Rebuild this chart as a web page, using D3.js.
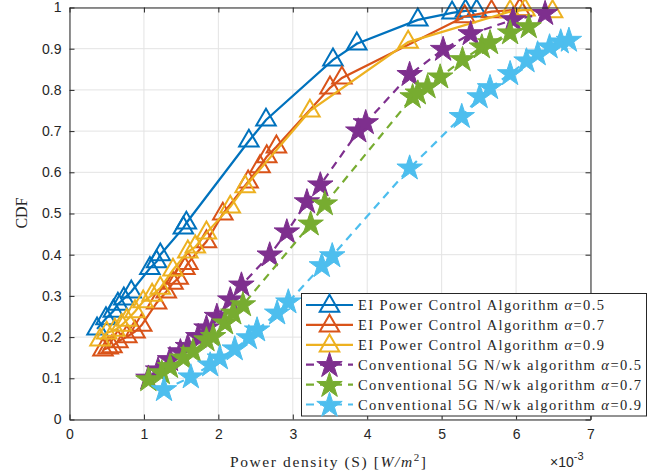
<!DOCTYPE html>
<html>
<head>
<meta charset="utf-8">
<script src="https://cdn.jsdelivr.net/npm/d3@7"></script>
<style>
  body { margin: 0; background: #fff; }
  text { fill: #262626; }
</style>
</head>
<body>
<svg width="663" height="476"></svg>
<script>
// values; x in units of 1e-3 W/m^2
const xTicks = [0, 1, 2, 3, 4, 5, 6, 7];
const yTicks = [0, 0.1, 0.2, 0.3, 0.4, 0.5, 0.6, 0.7, 0.8, 0.9, 1];
const yTickLabels = ["0", "0.1", "0.2", "0.3", "0.4", "0.5", "0.6", "0.7", "0.8", "0.9", "1"];

const ei05 = [
  [0.37, 0.22], [0.49, 0.245], [0.59, 0.263], [0.65, 0.28], [0.73, 0.293], [0.83, 0.31],
  [1.08, 0.367], [1.17, 0.383], [1.22, 0.40], [1.53, 0.465], [1.57, 0.477],
  [2.41, 0.676], [2.64, 0.727], [3.54, 0.873], [3.86, 0.912], [4.68, 0.97],
  [5.14, 0.987], [5.32, 0.992], [5.47, 0.992]
];
const ei07 = [
  [0.45, 0.169], [0.52, 0.174], [0.57, 0.177], [0.65, 0.189], [0.77, 0.201], [0.88, 0.213],
  [0.97, 0.229], [1.17, 0.283], [1.30, 0.31], [1.39, 0.331], [1.46, 0.343], [1.55, 0.367],
  [1.59, 0.379], [1.84, 0.432], [2.06, 0.499], [2.40, 0.577], [2.56, 0.614], [2.65, 0.638],
  [2.78, 0.662], [3.50, 0.805], [3.66, 0.829], [5.31, 0.978], [5.67, 0.99], [6.05, 0.995]
];
const ei09 = [
  [0.41, 0.193], [0.50, 0.21], [0.61, 0.217], [0.70, 0.229], [0.77, 0.241], [0.88, 0.262],
  [0.99, 0.286], [1.11, 0.302], [1.22, 0.319], [1.39, 0.363], [1.59, 0.407], [1.69, 0.419],
  [1.84, 0.453], [2.16, 0.516], [2.36, 0.565], [3.23, 0.749], [4.55, 0.916], [5.92, 0.99],
  [6.12, 0.994], [6.49, 0.99]
];
const conv05 = [
  [1.06, 0.10], [1.19, 0.12], [1.35, 0.145], [1.49, 0.164], [1.59, 0.177], [1.73, 0.201],
  [1.84, 0.222], [1.98, 0.25], [2.16, 0.29], [2.31, 0.326], [2.69, 0.399], [2.92, 0.455],
  [3.19, 0.528], [3.37, 0.569], [3.88, 0.70], [3.98, 0.72], [4.57, 0.837], [5.02, 0.898],
  [5.39, 0.936], [5.96, 0.97], [6.39, 0.985]
];
const conv07 = [
  [1.06, 0.096], [1.24, 0.113], [1.35, 0.128], [1.53, 0.149], [1.66, 0.165], [1.84, 0.193],
  [1.93, 0.201], [2.09, 0.234], [2.20, 0.258], [2.33, 0.278], [3.24, 0.474], [3.43, 0.523],
  [4.61, 0.783], [4.68, 0.792], [4.81, 0.807], [4.98, 0.831], [5.28, 0.873], [5.54, 0.904],
  [5.65, 0.914], [5.92, 0.938], [6.17, 0.953]
];
const conv09 = [
  [1.27, 0.072], [1.63, 0.103], [1.89, 0.132], [2.02, 0.149], [2.22, 0.171], [2.41, 0.198],
  [2.52, 0.217], [2.79, 0.258], [2.94, 0.285], [3.39, 0.373], [3.53, 0.397], [4.57, 0.61],
  [5.27, 0.735], [5.51, 0.783], [5.65, 0.805], [5.92, 0.839], [6.14, 0.87], [6.29, 0.887],
  [6.45, 0.904], [6.60, 0.916], [6.71, 0.92]
];

const seriesLabels = [
  ["EI Power Control Algorithm ", "0.5"],
  ["EI Power Control Algorithm ", "0.7"],
  ["EI Power Control Algorithm ", "0.9"],
  ["Conventional 5G N/wk algorithm ", "0.5"],
  ["Conventional 5G N/wk algorithm ", "0.7"],
  ["Conventional 5G N/wk algorithm ", "0.9"]
];
const seriesColors = ["#0072BD", "#D95319", "#EDB120", "#7E2F8E", "#77AC30", "#4DBEEE"];

const series = [ei05, ei07, ei09, conv05, conv07, conv09].map((data, i) => ({
  data,
  label: seriesLabels[i],
  color: seriesColors[i],
  dashed: i >= 3,
  star: i >= 3
}));

const svg = d3.select("svg");
const x = d3.scaleLinear().domain([0, 7]).range([69.5, 590.5]);
const y = d3.scaleLinear().domain([0, 1]).range([419.5, 7.5]);

// grid
const grid = svg.append("g").attr("stroke", "#e3e3e3").attr("stroke-width", 1);
grid.selectAll(".gx").data(xTicks).join("line")
  .attr("x1", d => x(d)).attr("x2", d => x(d))
  .attr("y1", y(0)).attr("y2", y(1));
grid.selectAll(".gy").data(yTicks).join("line")
  .attr("x1", x(0)).attr("x2", x(7))
  .attr("y1", d => y(d)).attr("y2", d => y(d));

// series
const line = d3.line().x(d => x(d[0])).y(d => y(d[1]));
const triangle = d3.symbol().type(d3.symbolTriangle).size(165);
const star = d3.symbol().type(d3.symbolStar).size(200);

function drawMarker(g, s, px, py) {
  if (s.star) {
    g.append("path").attr("d", star())
      .attr("transform", `translate(${px},${py})`)
      .attr("fill", s.color).attr("stroke", s.color).attr("stroke-width", 1);
  } else {
    g.append("path").attr("d", triangle())
      .attr("transform", `translate(${px},${py})`)
      .attr("fill", "none").attr("stroke", s.color).attr("stroke-width", 2);
  }
}

series.forEach(s => {
  const g = svg.append("g");
  g.append("path").datum(s.data).attr("d", line)
    .attr("fill", "none").attr("stroke", s.color).attr("stroke-width", 2.2)
    .attr("stroke-dasharray", s.dashed ? "8,6" : null);
  s.data.forEach(d => drawMarker(g, s, x(d[0]), y(d[1])));
});

// axes
const tickFont = "'Liberation Sans', Arial, sans-serif";
function styleAxis(g) {
  g.selectAll("path, line").attr("stroke", "#262626");
  g.selectAll("text").attr("font-family", tickFont).attr("font-size", 14).attr("fill", "#262626");
}
svg.append("g").attr("transform", `translate(0,${y(0)})`)
  .call(d3.axisBottom(x).tickValues(xTicks).tickSizeInner(-5).tickSizeOuter(0).tickPadding(10).tickFormat(d3.format("d")))
  .call(styleAxis);
svg.append("g").attr("transform", `translate(0,${y(1)})`)
  .call(d3.axisTop(x).tickValues(xTicks).tickSizeInner(-5).tickSizeOuter(0).tickFormat(""))
  .call(styleAxis);
svg.append("g").attr("transform", `translate(${x(0)},0)`)
  .call(d3.axisLeft(y).tickValues(yTicks).tickSizeInner(-5).tickSizeOuter(0).tickPadding(8)
    .tickFormat((d, i) => yTickLabels[i]))
  .call(styleAxis);
svg.append("g").attr("transform", `translate(${x(7)},0)`)
  .call(d3.axisRight(y).tickValues(yTicks).tickSizeInner(-5).tickSizeOuter(0).tickFormat(""))
  .call(styleAxis);

// stretch a text to a target width with letter spacing (CM fonts run wider)
function fitWidth(t, target) {
  const node = t.node();
  const w = node.getComputedTextLength();
  const n = node.textContent.length;
  if (n > 1 && w < target) t.attr("letter-spacing", (target - w) / (n - 1));
}

// axis labels
const serif = "'Liberation Serif', 'Times New Roman', serif";
const xl = svg.append("text").attr("x", 230).attr("y", 467)
  .attr("font-family", serif).attr("font-size", 15.5);
xl.append("tspan").text("Power density (S) [");
xl.append("tspan").attr("font-style", "italic").text("W/m");
xl.append("tspan").attr("font-size", 11).attr("dy", -6).text("2");
xl.append("tspan").attr("dy", 6).text("]");
fitWidth(xl, 196);

svg.append("text").attr("transform", "translate(27,213) rotate(-90)")
  .attr("text-anchor", "middle").attr("font-family", serif).attr("font-size", 16).text("CDF");

const ex = svg.append("text").attr("x", 550).attr("y", 467)
  .attr("font-family", tickFont).attr("font-size", 14);
ex.append("tspan").text("\u00d710");
ex.append("tspan").attr("font-size", 11).attr("dy", -7).text("-3");

// legend
const lg = svg.append("g");
lg.append("rect").attr("x", 301.5).attr("y", 293.5).attr("width", 345).attr("height", 122.5)
  .attr("fill", "#fff").attr("stroke", "#262626").attr("stroke-width", 1);
series.forEach((s, i) => {
  const cy = 305 + i * 19.9;
  lg.append("line").attr("x1", 306).attr("x2", 353).attr("y1", cy).attr("y2", cy)
    .attr("stroke", s.color).attr("stroke-width", 2.2)
    .attr("stroke-dasharray", s.dashed ? "8,6" : null);
  drawMarker(lg, s, 329.5, cy + 1);
  const t = lg.append("text").attr("x", 358).attr("y", cy + 5)
    .attr("font-family", serif).attr("font-size", 14.5);
  t.append("tspan").text(s.label[0]);
  t.append("tspan").attr("font-style", "italic").text("\u03b1");
  t.append("tspan").text("=" + s.label[1]);
  fitWidth(t, s.dashed ? 283 : 246);
});
</script>
</body>
</html>
